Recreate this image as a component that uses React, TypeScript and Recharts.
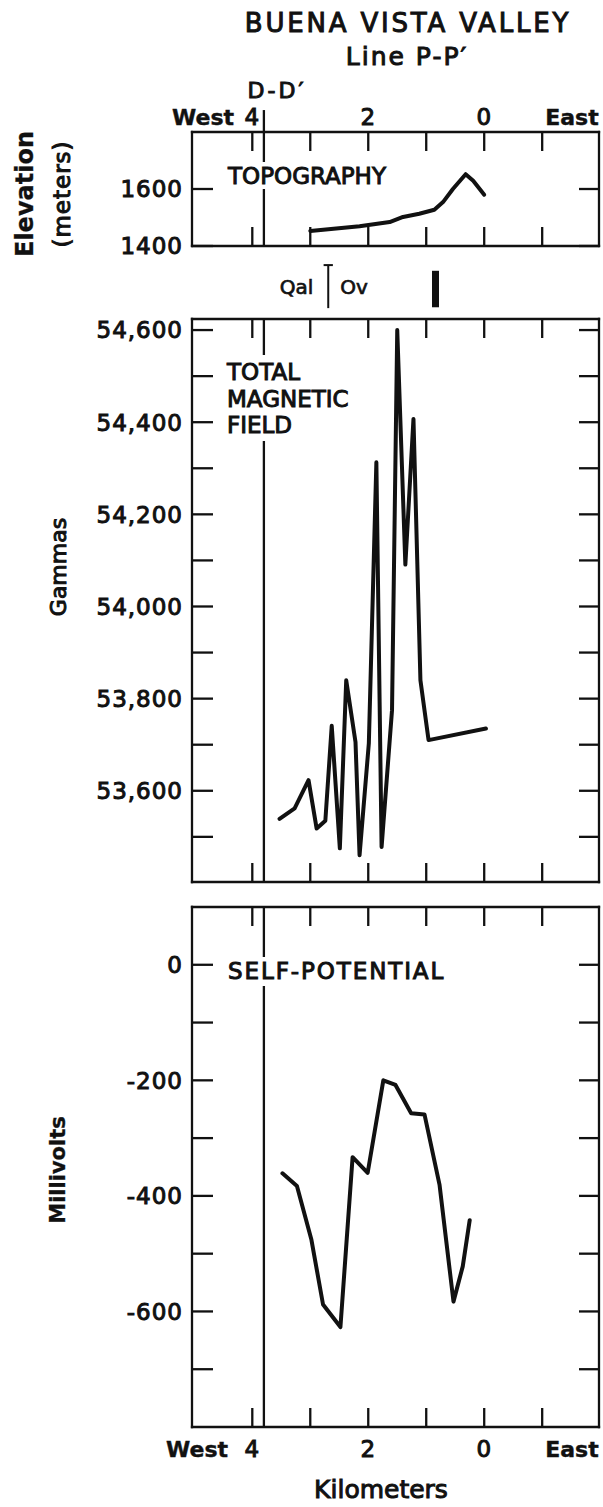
import React from "react";
import { LineChart, Line, XAxis, YAxis, ReferenceLine } from "recharts";

const FONT = "DejaVu Sans";
const INK = "#111";

// distance along line P-P', km (axis runs west 4 -> east 0)
const kmDomain: [number, number] = [-1.98, 5.04];
const kmTicks = [4, 3, 2, 1, 0, -1];
const kmLabels = [4, 2, 0];
const ddKm = 3.8; // crossing with line D-D'
const contactKm = 2.69; // Qal / Ov contact
const contactCapKm = [2.77, 2.61];
const dikeKm = 0.84;

// topography
const topoKm = [3.0, 2.15, 1.63, 1.4, 1.12, 0.86, 0.71, 0.54, 0.32, 0.19, 0.0];
const topoElev = [1453, 1469, 1484, 1502, 1513, 1527, 1554, 1600, 1652, 1629, 1580];
const elevDomain: [number, number] = [1400, 1800];
const elevTicks = [1400, 1600];
const elevLabels = [1400, 1600];
const ddTopElev = 1877;
const contactElev = [1182, 1333];
const dikeElev = [1185, 1313];

// total magnetic field
const magKm = [3.53, 3.27, 3.03, 2.89, 2.74, 2.63, 2.49, 2.38, 2.22, 2.15, 1.99, 1.86, 1.77, 1.59, 1.5, 1.36, 1.22, 1.1, 0.96, -0.03];
const magGamma = [53539, 53562, 53623, 53518, 53535, 53741, 53475, 53840, 53706, 53460, 53703, 54313, 53478, 53775, 54600, 54091, 54407, 53840, 53710, 53735];
const magDomain: [number, number] = [53402, 54624];
const magTicks = [53500, 53600, 53700, 53800, 53900, 54000, 54100, 54200, 54300, 54400, 54500, 54600];
const magLabels = [53600, 53800, 54000, 54200, 54400, 54600];

// self-potential
const spKm = [3.48, 3.23, 2.98, 2.78, 2.48, 2.27, 2.01, 1.74, 1.53, 1.26, 1.03, 0.77, 0.53, 0.37, 0.25];
const spMv = [-361, -383, -476, -588, -627, -333, -360, -200, -208, -257, -259, -381, -583, -522, -442];
const spDomain: [number, number] = [-800, 100];
const spTicks = [0, -100, -200, -300, -400, -500, -600, -700];
const spLabels = [0, -200, -400, -600];

const zip = (xs: number[], ys: number[]) => xs.map((km, i) => ({ km, v: ys[i] }));
const topoRows = zip(topoKm, topoElev);
const magRows = zip(magKm, magGamma);
const spRows = zip(spKm, spMv);

const W = 603;
const PLOT_L = 192;
const PLOT_R = 599;
const LW = 2.3;

type Side = "top" | "bottom" | "left" | "right";

const plain = (v: number) => String(v);
const comma = (v: number) => v.toLocaleString("en-US");

function makeTick(side: Side, len: number, gap: number, labels: number[], fmt: (v: number) => string) {
  return (p: any) => {
    const { x, y, payload } = p;
    const v = payload.value;
    let x1 = x, y1 = y, x2 = x, y2 = y;
    if (side === "bottom") { y1 = y - gap; y2 = y1 - len; }
    if (side === "top") { y1 = y + gap; y2 = y1 + len; }
    if (side === "left") { x1 = x + gap; x2 = x1 + len; }
    if (side === "right") { x1 = x - gap; x2 = x1 - len; }
    const show = labels.includes(v);
    const ty = side === "bottom" ? y + 16.5 : side === "top" ? y : y + 8.4;
    return (
      <g>
        <line x1={x1} y1={y1} x2={x2} y2={y2} stroke={INK} strokeWidth={LW} />
        {show && (
          <text x={x} y={ty} textAnchor={side === "left" ? "end" : "middle"} fontFamily={FONT} fontSize={23}
            fill={INK} stroke={INK} strokeWidth={1} letterSpacing={1}>
            {fmt(v)}
          </text>
        )}
      </g>
    );
  };
}

interface PanelProps {
  svgTop: number;
  svgBottom: number;
  plotTop: number;
  plotBottom: number;
  rows: { km: number; v: number }[];
  yDomain: [number, number];
  yTicks: number[];
  yLabels: number[];
  yFmt: (v: number) => string;
  topLabels?: boolean;
  bottomLabels?: boolean;
  children?: React.ReactNode;
}

function Panel({ svgTop, svgBottom, plotTop, plotBottom, rows, yDomain, yTicks, yLabels, yFmt, topLabels, bottomLabels, children }: PanelProps) {
  const axisLine = { stroke: INK, strokeWidth: LW, strokeLinecap: "square" as const };
  const tGap = 7;
  const bGap = 13;
  const lGap = 9;
  return (
    <div style={{ position: "absolute", left: 0, top: svgTop }}>
      <LineChart
        width={W}
        height={svgBottom - svgTop}
        data={rows}
        margin={{ top: plotTop - svgTop - 1, bottom: svgBottom - plotBottom - 1, left: PLOT_L - 1, right: W - PLOT_R - 1 }}
      >
        <XAxis xAxisId="b" orientation="bottom" type="number" dataKey="km" domain={kmDomain} reversed allowDataOverflow
          ticks={kmTicks} interval={0} height={1} tickSize={0} tickMargin={bGap} tickLine={false} axisLine={axisLine}
          tick={makeTick("bottom", 19, bGap, bottomLabels ? kmLabels : [], plain)} />
        <XAxis xAxisId="t" orientation="top" type="number" dataKey="km" domain={kmDomain} reversed allowDataOverflow
          ticks={kmTicks} interval={0} height={1} tickSize={0} tickMargin={tGap} tickLine={false} axisLine={axisLine}
          tick={makeTick("top", 19, tGap, topLabels ? kmLabels : [], plain)} />
        <YAxis yAxisId="l" orientation="left" type="number" domain={yDomain} allowDataOverflow
          ticks={yTicks} interval={0} width={1} tickSize={0} tickMargin={lGap} tickLine={false} axisLine={axisLine}
          tick={makeTick("left", 21, lGap, yLabels, yFmt)} />
        <YAxis yAxisId="r" orientation="right" type="number" domain={yDomain} allowDataOverflow
          ticks={yTicks} interval={0} width={1} tickSize={0} tickMargin={0} tickLine={false} axisLine={axisLine}
          tick={makeTick("right", 20, 0, [], yFmt)} />
        {children}
        <Line xAxisId="b" yAxisId="l" type="linear" dataKey="v" stroke={INK} strokeWidth={4}
          strokeLinejoin="round" strokeLinecap="round" dot={false} isAnimationActive={false} />
      </LineChart>
    </div>
  );
}

const ddLine = <ReferenceLine xAxisId="b" yAxisId="l" x={ddKm} stroke={INK} strokeWidth={LW} />;

const txt = { fontFamily: FONT, fill: INK, stroke: INK, strokeWidth: 1 };

export default function App() {
  return (
    <div style={{ position: "absolute", left: 0, top: 0, width: W, height: 1507, background: "#fff" }}>
      <Panel svgTop={95} svgBottom={314} plotTop={132} plotBottom={246} rows={topoRows}
        yDomain={elevDomain} yTicks={elevTicks} yLabels={elevLabels} yFmt={plain} topLabels>
        <ReferenceLine xAxisId="b" yAxisId="l" segment={[{ x: ddKm, y: elevDomain[0] }, { x: ddKm, y: ddTopElev }]}
          ifOverflow="visible" stroke={INK} strokeWidth={LW} />
        <ReferenceLine xAxisId="b" yAxisId="l" segment={[{ x: contactKm, y: contactElev[0] }, { x: contactKm, y: contactElev[1] }]}
          ifOverflow="visible" stroke={INK} strokeWidth={2}
          label={{ value: "Qal", position: "left", offset: 15, fill: INK, stroke: INK, strokeWidth: 0.7, fontSize: 20, fontFamily: FONT }} />
        <ReferenceLine xAxisId="b" yAxisId="l" segment={[{ x: contactKm, y: contactElev[0] }, { x: contactKm, y: contactElev[1] }]}
          ifOverflow="visible" stroke="none"
          label={{ value: "Ov", position: "right", offset: 12, fill: INK, stroke: INK, strokeWidth: 0.7, fontSize: 20, fontFamily: FONT }} />
        <ReferenceLine xAxisId="b" yAxisId="l" segment={[{ x: contactCapKm[0], y: contactElev[1] }, { x: contactCapKm[1], y: contactElev[1] }]}
          ifOverflow="visible" stroke={INK} strokeWidth={2} />
        <ReferenceLine xAxisId="b" yAxisId="l" segment={[{ x: dikeKm, y: dikeElev[0] }, { x: dikeKm, y: dikeElev[1] }]}
          ifOverflow="visible" stroke={INK} strokeWidth={7} />
      </Panel>
      <Panel svgTop={314} svgBottom={890} plotTop={319} plotBottom={882} rows={magRows}
        yDomain={magDomain} yTicks={magTicks} yLabels={magLabels} yFmt={comma}>
        {ddLine}
      </Panel>
      <Panel svgTop={898} svgBottom={1470} plotTop={907} plotBottom={1427} rows={spRows}
        yDomain={spDomain} yTicks={spTicks} yLabels={spLabels} yFmt={plain} bottomLabels>
        {ddLine}
      </Panel>

      <svg width={W} height={1507} style={{ position: "absolute", left: 0, top: 0, pointerEvents: "none" }}>
        <text x={408} y={32} textAnchor="middle" fontSize={26} letterSpacing={2.8} {...txt}>BUENA VISTA VALLEY</text>
        <text x={407} y={65} textAnchor="middle" fontSize={25} letterSpacing={2} {...txt}>Line P-P′</text>
        <text x={277} y={98} textAnchor="middle" fontSize={22} letterSpacing={3} {...txt}>D-D′</text>
        <text x={203} y={125} textAnchor="middle" fontSize={22} fontWeight="bold" {...txt} strokeWidth={0.4}>West</text>
        <text x={572} y={125} textAnchor="middle" fontSize={22} fontWeight="bold" {...txt} strokeWidth={0.4}>East</text>

        <rect x={224} y={162} width={168} height={27} fill="#fff" />
        <text x={228} y={184} fontSize={23} {...txt}>TOPOGRAPHY</text>

        <rect x={222} y={355} width={130} height={86} fill="#fff" />
        <text x={227} y={380} fontSize={23} {...txt}>TOTAL</text>
        <text x={227} y={407} fontSize={23} {...txt}>MAGNETIC</text>
        <text x={227} y={433} fontSize={23} {...txt}>FIELD</text>

        <rect x={224} y={957} width={228} height={29} fill="#fff" />
        <text x={228} y={979} fontSize={23} letterSpacing={1.9} {...txt}>SELF-POTENTIAL</text>

        <text x={197} y={1457} textAnchor="middle" fontSize={22} fontWeight="bold" {...txt} strokeWidth={0.4}>West</text>
        <text x={572} y={1457} textAnchor="middle" fontSize={22} fontWeight="bold" {...txt} strokeWidth={0.4}>East</text>
        <text x={381} y={1498} textAnchor="middle" fontSize={25} {...txt}>Kilometers</text>

        <text transform="translate(25,194) rotate(-90)" textAnchor="middle" dominantBaseline="central" fontSize={24} fontWeight="bold" {...txt} strokeWidth={0.3}>Elevation</text>
        <text transform="translate(62,194) rotate(-90)" textAnchor="middle" dominantBaseline="central" fontSize={23} letterSpacing={1} {...txt}>(meters)</text>
        <text transform="translate(58,567) rotate(-90)" textAnchor="middle" dominantBaseline="central" fontSize={22} {...txt}>Gammas</text>
        <text transform="translate(58,1170) rotate(-90)" textAnchor="middle" dominantBaseline="central" fontSize={21} fontWeight="bold" {...txt} strokeWidth={0.3}>Millivolts</text>
      </svg>
    </div>
  );
}
